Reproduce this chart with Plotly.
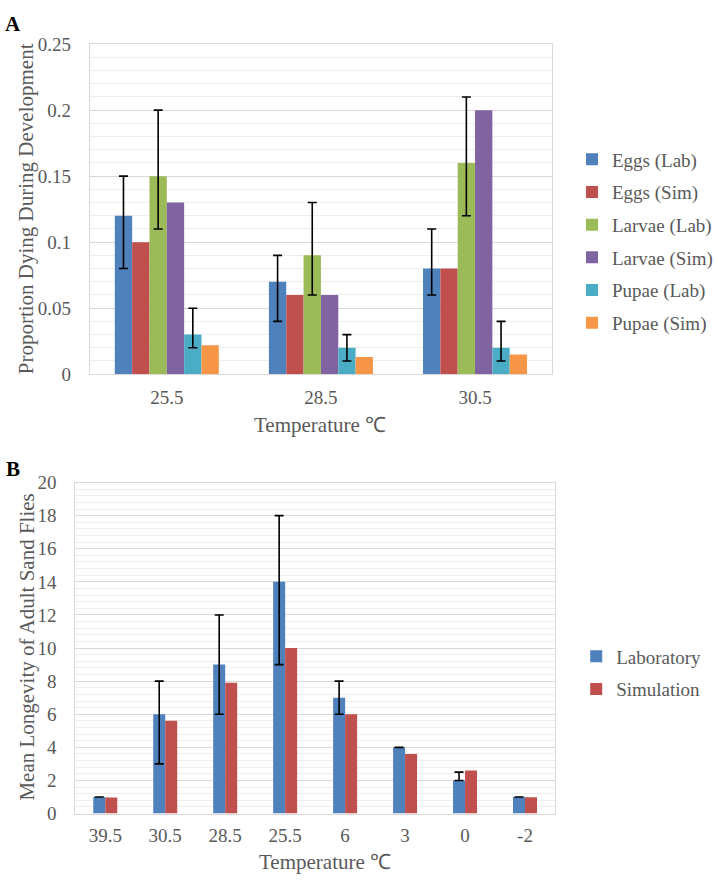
import plotly.graph_objects as go

# ---------------- Data: panel A ----------------
temps_a = ["25.5", "28.5", "30.5"]
series_a = ["Eggs (Lab)", "Eggs (Sim)", "Larvae (Lab)", "Larvae (Sim)", "Pupae (Lab)", "Pupae (Sim)"]
eggs_lab = [0.12, 0.07, 0.08]
eggs_lab_hi = [0.15, 0.09, 0.11]
eggs_lab_lo = [0.08, 0.04, 0.06]
eggs_sim = [0.10, 0.06, 0.08]
larvae_lab = [0.15, 0.09, 0.16]
larvae_lab_hi = [0.20, 0.13, 0.21]
larvae_lab_lo = [0.11, 0.06, 0.12]
larvae_sim = [0.13, 0.06, 0.20]
pupae_lab = [0.03, 0.02, 0.02]
pupae_lab_hi = [0.05, 0.03, 0.04]
pupae_lab_lo = [0.02, 0.01, 0.01]
pupae_sim = [0.022, 0.013, 0.015]

# ---------------- Data: panel B ----------------
temps_b = ["39.5", "30.5", "28.5", "25.5", "6", "3", "0", "-2"]
laboratory = [1, 6, 9, 14, 7, 4, 2, 1]
laboratory_hi = [1, 8, 12, 18, 8, 4, 2.5, 1]
laboratory_lo = [1, 3, 6, 9, 6, 4, 2, 1]
simulation = [0.97, 5.6, 7.9, 10, 6, 3.6, 2.6, 0.98]

colors_a = ["#4f81bd", "#c0504d", "#9bbb59", "#8064a2", "#4bacc6", "#f79646"]
FONT = "Liberation Serif, Times New Roman, serif"
GREY = "#595959"


def err(vals, hi, lo):
    return dict(type="data", symmetric=False,
                array=[h - v for v, h in zip(vals, hi)],
                arrayminus=[v - l for v, l in zip(vals, lo)],
                color="black", thickness=1.6, width=4.5)


fig = go.Figure()

vals_a = [eggs_lab, eggs_sim, larvae_lab, larvae_sim, pupae_lab, pupae_sim]
errs_a = [err(eggs_lab, eggs_lab_hi, eggs_lab_lo), None,
          err(larvae_lab, larvae_lab_hi, larvae_lab_lo), None,
          err(pupae_lab, pupae_lab_hi, pupae_lab_lo), None]
for name, vals, col, e in zip(series_a, vals_a, colors_a, errs_a):
    fig.add_trace(go.Bar(x=temps_a, y=vals, name=name, marker_color=col,
                         marker_line_width=0, error_y=e,
                         xaxis="x", yaxis="y", legend="legend",
                         legendgroup=name))

fig.add_trace(go.Bar(x=temps_b, y=laboratory, name="Laboratory", marker_color=colors_a[0],
                     marker_line_width=0, offset=-0.2, width=0.2,
                     error_y=err(laboratory, laboratory_hi, laboratory_lo),
                     xaxis="x2", yaxis="y2", legend="legend2", legendgroup="lab"))
fig.add_trace(go.Bar(x=temps_b, y=simulation, name="Simulation", marker_color=colors_a[1],
                     marker_line_width=0, offset=0.0, width=0.2,
                     xaxis="x2", yaxis="y2", legend="legend2", legendgroup="sim"))

W, H = 718, 888


def px(x):
    return x / W


def py(y):
    return 1 - y / H


axis_common = dict(showline=True, linecolor="#d9d9d9", linewidth=1, mirror=True,
                   tickfont=dict(family=FONT, size=19, color=GREY), ticks="")

fig.update_layout(
    width=W, height=H, margin=dict(l=0, r=0, t=0, b=0),
    paper_bgcolor="white", plot_bgcolor="white",
    barmode="group", bargap=0.325, bargroupgap=0,
    font=dict(family=FONT, color=GREY),
    xaxis=dict(domain=[px(93), px(572)], anchor="y", type="category",
               showgrid=False, ticklabelstandoff=6, **axis_common),
    yaxis=dict(domain=[py(373), py(35)], anchor="x", range=[0, 0.25], dtick=0.05,
               showgrid=True, gridcolor="#d9d9d9", gridwidth=1,
               minor=dict(dtick=0.01, showgrid=True, gridcolor="#eeeeee", gridwidth=1),
               zeroline=False, ticklabelstandoff=14, **axis_common),
    xaxis2=dict(domain=[px(78), px(575)], anchor="y2", type="category",
                showgrid=False, ticklabelstandoff=5, **axis_common),
    yaxis2=dict(domain=[py(823), py(484)], anchor="x2", range=[0, 20], dtick=2,
                showgrid=True, gridcolor="#d9d9d9", gridwidth=1,
                minor=dict(dtick=0.4, showgrid=True, gridcolor="#eeeeee", gridwidth=1),
                zeroline=False, ticklabelstandoff=14, **axis_common),
    legend=dict(x=px(593), y=py(237), xanchor="left", yanchor="middle",
                font=dict(family=FONT, size=19, color=GREY),
                tracegroupgap=5, itemwidth=30, bgcolor="rgba(0,0,0,0)"),
    legend2=dict(x=px(597), y=py(679), xanchor="left", yanchor="middle",
                 font=dict(family=FONT, size=19, color=GREY),
                 tracegroupgap=5, itemwidth=30, bgcolor="rgba(0,0,0,0)"),
    showlegend=True,
)

ann = [
    dict(text="<b>A</b>", x=px(3), y=py(14), xanchor="left", yanchor="middle",
         font=dict(family=FONT, size=21, color="black")),
    dict(text="<b>B</b>", x=px(4), y=py(470), xanchor="left", yanchor="middle",
         font=dict(family=FONT, size=21, color="black")),
    dict(text="Proportion Dying During Development", x=px(27), y=py(204),
         xanchor="center", yanchor="middle", textangle=-90,
         font=dict(family=FONT, size=21, color=GREY)),
    dict(text="Temperature ℃", x=px(332), y=py(425), xanchor="center", yanchor="middle",
         font=dict(family=FONT, size=21, color=GREY)),
    dict(text="Mean Longevity of Adult Sand Flies", x=px(27), y=py(653),
         xanchor="center", yanchor="middle", textangle=-90,
         font=dict(family=FONT, size=21, color=GREY)),
    dict(text="Temperature ℃", x=px(337), y=py(873), xanchor="center", yanchor="middle",
         font=dict(family=FONT, size=21, color=GREY)),
]
for a in ann:
    a.update(xref="paper", yref="paper", showarrow=False)
fig.update_layout(annotations=ann)

fig.write_html("out.html", config={"displayModeBar": False},
               post_script="document.body.style.margin='0';document.body.style.padding='0';")
